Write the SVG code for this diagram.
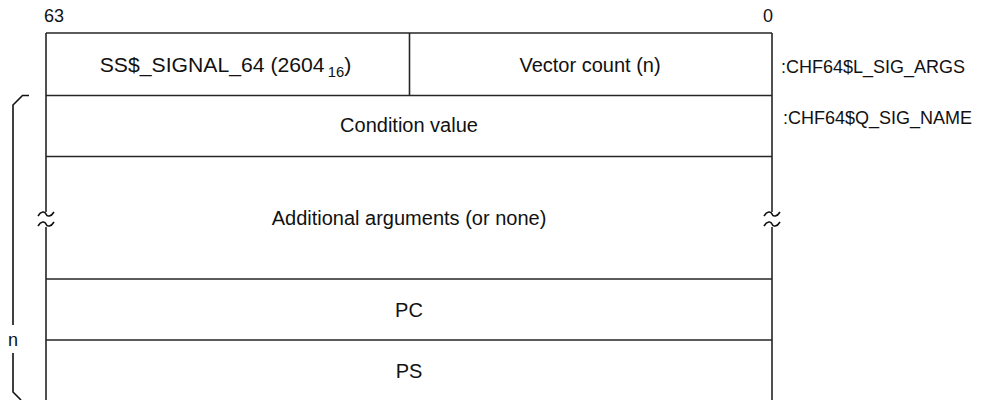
<svg xmlns="http://www.w3.org/2000/svg" width="1008" height="400" viewBox="0 0 1008 400">
<style>
.ln{stroke:#262626;stroke-width:1.6;fill:none}
.br{stroke:#111;stroke-width:1.6;fill:none}
.t{font-family:"Liberation Sans",Arial,sans-serif;font-size:20px;fill:#111}
.s{font-size:18px}
.m{text-anchor:middle}
.e{text-anchor:end}
</style>
<defs>
<path id="tl" d="M-8,2 C-5,-3 -1,-3 0,0 S5,3 8,-2" class="br"/>
</defs>
<rect width="1008" height="400" fill="#fff"/>
<g id="labels">
<text class="t s" x="44" y="22">63</text>
<text class="t s e" x="773" y="22">0</text>
<text class="t s" x="781" y="73">:CHF64$L_SIG_ARGS</text>
<text class="t s" x="783" y="124">:CHF64$Q_SIG_NAME</text>
</g>
<g id="frame">
<path class="ln" d="M46,33H772M46,95.5H772M46,156.5H772M46,279H772M46,340H772M409.5,33V95.5"/>
<path class="ln" d="M46,33V212M46,227V400M772,33V212M772,227V400"/>
<use href="#tl" x="46" y="214"/>
<use href="#tl" x="46" y="224"/>
<use href="#tl" x="772" y="214"/>
<use href="#tl" x="772" y="224"/>
</g>
<g id="cell-signal">
<text class="t m" transform="translate(225.5,72) scale(1.06,1)">SS$_SIGNAL_64 (2604<tspan font-size="14" dx="3" dy="5">16</tspan><tspan dy="-5">)</tspan></text>
</g>
<g id="cell-count">
<text class="t m" x="590" y="72">Vector count (n)</text>
</g>
<g id="cell-condition">
<text class="t m" x="409" y="132">Condition value</text>
</g>
<g id="cell-args">
<text class="t m" x="409" y="225">Additional arguments (or none)</text>
</g>
<g id="cell-pc">
<text class="t m" x="409" y="317">PC</text>
</g>
<g id="cell-ps">
<text class="t m" x="409" y="378">PS</text>
</g>
<g id="connectors">
<path class="br" d="M29,95.5H22.5L13,105V325"/>
<path class="br" d="M13,353V392L21,400"/>
<text class="t s m" x="13" y="346">n</text>
</g>
</svg>
